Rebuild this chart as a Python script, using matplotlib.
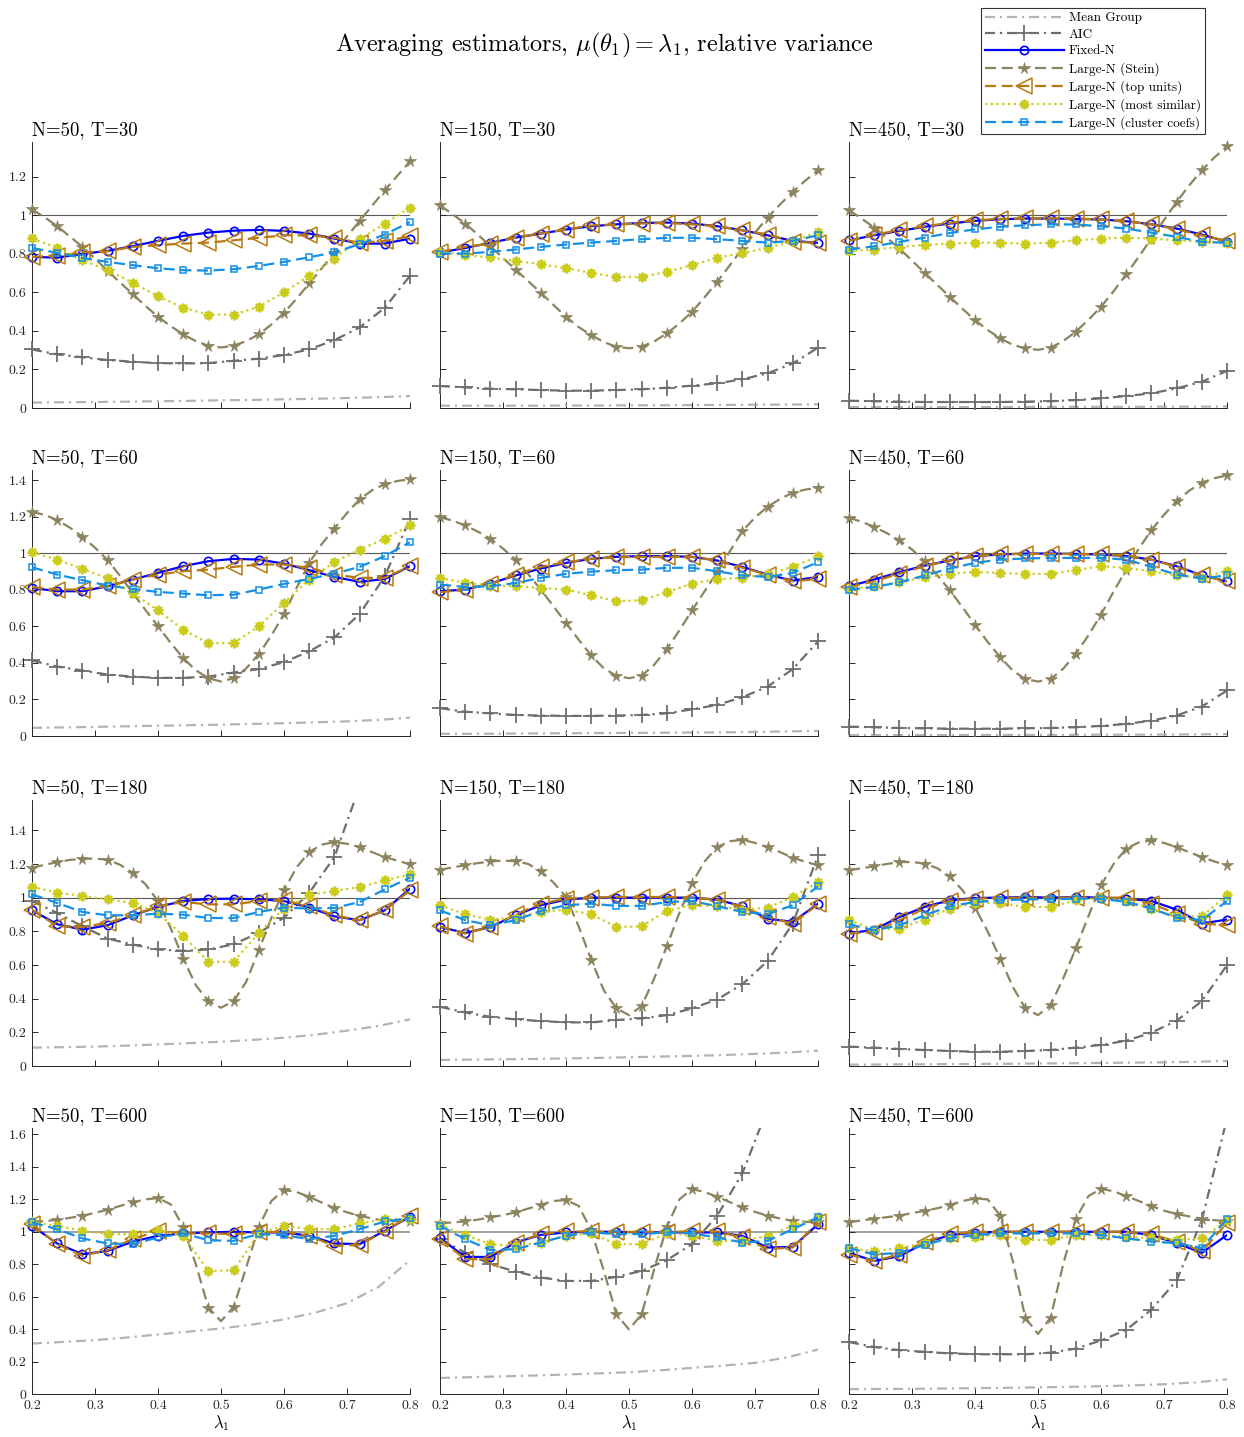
import numpy as np
import matplotlib.pyplot as plt
from matplotlib.lines import Line2D
from matplotlib.ticker import FuncFormatter

plt.rcParams['font.family'] = 'cmr10'
plt.rcParams['mathtext.fontset'] = 'cm'
plt.rcParams['axes.formatter.use_mathtext'] = True

# grid of lambda_1 values
lam = [0.20, 0.24, 0.28, 0.32, 0.36, 0.40, 0.44, 0.48, 0.52, 0.56, 0.60, 0.64, 0.68, 0.72, 0.76, 0.80]
lam_fine = [0.20, 0.22, 0.24, 0.26, 0.28, 0.30, 0.32, 0.34, 0.36, 0.38, 0.40, 0.42, 0.44, 0.46, 0.48, 0.50,
            0.52, 0.54, 0.56, 0.58, 0.60, 0.62, 0.64, 0.66, 0.68, 0.70, 0.72, 0.74, 0.76, 0.78, 0.80]
lam_mg = [0.20, 0.25, 0.30, 0.35, 0.40, 0.45, 0.50, 0.55, 0.60, 0.65, 0.70, 0.75, 0.80]

n_vals = [50, 150, 450]
t_vals = [30, 60, 180, 600]
row_ymax = [1.38, 1.455, 1.58, 1.64]
row_yticks = [[0, 0.2, 0.4, 0.6, 0.8, 1, 1.2],
              [0, 0.2, 0.4, 0.6, 0.8, 1, 1.2, 1.4],
              [0, 0.2, 0.4, 0.6, 0.8, 1, 1.2, 1.4],
              [0, 0.2, 0.4, 0.6, 0.8, 1, 1.2, 1.4, 1.6]]
x_ticks = [0.2, 0.3, 0.4, 0.5, 0.6, 0.7, 0.8]

# panels in order: (N=50,T=30), (150,30), (450,30), (50,60), ... (450,600)
mean_group = [
    [0.028, 0.030, 0.031, 0.033, 0.035, 0.037, 0.040, 0.042, 0.045, 0.048, 0.052, 0.056, 0.062],
    [0.012, 0.012, 0.012, 0.012, 0.013, 0.013, 0.014, 0.014, 0.015, 0.016, 0.017, 0.018, 0.019],
    [0.005, 0.005, 0.005, 0.005, 0.005, 0.005, 0.006, 0.006, 0.006, 0.006, 0.007, 0.007, 0.008],
    [0.045, 0.047, 0.050, 0.053, 0.056, 0.059, 0.062, 0.066, 0.070, 0.075, 0.080, 0.088, 0.100],
    [0.012, 0.012, 0.013, 0.014, 0.015, 0.016, 0.017, 0.018, 0.019, 0.020, 0.022, 0.025, 0.028],
    [0.005, 0.005, 0.005, 0.005, 0.006, 0.006, 0.006, 0.006, 0.007, 0.007, 0.008, 0.009, 0.010],
    [0.109, 0.112, 0.115, 0.121, 0.128, 0.136, 0.144, 0.155, 0.168, 0.186, 0.210, 0.238, 0.277],
    [0.036, 0.038, 0.040, 0.042, 0.045, 0.048, 0.052, 0.056, 0.060, 0.065, 0.072, 0.080, 0.091],
    [0.008, 0.009, 0.010, 0.011, 0.012, 0.013, 0.015, 0.016, 0.018, 0.020, 0.022, 0.025, 0.030],
    [0.311, 0.321, 0.332, 0.348, 0.367, 0.385, 0.404, 0.428, 0.460, 0.502, 0.560, 0.660, 0.825],
    [0.099, 0.104, 0.109, 0.114, 0.120, 0.127, 0.134, 0.146, 0.161, 0.175, 0.192, 0.225, 0.274],
    [0.030, 0.031, 0.032, 0.034, 0.036, 0.038, 0.041, 0.044, 0.048, 0.053, 0.060, 0.072, 0.090],
]

aic = [
    [0.304, 0.278, 0.263, 0.249, 0.240, 0.233, 0.231, 0.233, 0.245, 0.256, 0.275, 0.304, 0.352, 0.418, 0.520, 0.686],
    [0.114, 0.107, 0.100, 0.097, 0.093, 0.090, 0.090, 0.093, 0.097, 0.105, 0.116, 0.128, 0.149, 0.180, 0.231, 0.313],
    [0.038, 0.035, 0.033, 0.031, 0.031, 0.031, 0.031, 0.033, 0.035, 0.041, 0.050, 0.062, 0.076, 0.102, 0.136, 0.193],
    [0.413, 0.380, 0.358, 0.336, 0.325, 0.318, 0.318, 0.325, 0.347, 0.366, 0.404, 0.463, 0.539, 0.667, 0.874, 1.188],
    [0.152, 0.133, 0.124, 0.115, 0.112, 0.110, 0.110, 0.112, 0.115, 0.124, 0.146, 0.170, 0.212, 0.270, 0.366, 0.517],
    [0.051, 0.048, 0.044, 0.042, 0.040, 0.040, 0.040, 0.042, 0.044, 0.048, 0.055, 0.066, 0.084, 0.112, 0.161, 0.249],
    [0.980, 0.909, 0.830, 0.757, 0.721, 0.692, 0.684, 0.692, 0.723, 0.791, 0.881, 1.028, 1.241, 1.660, 2.200, 2.900],
    [0.352, 0.318, 0.292, 0.277, 0.267, 0.259, 0.259, 0.273, 0.283, 0.302, 0.342, 0.395, 0.486, 0.623, 0.846, 1.251],
    [0.115, 0.109, 0.101, 0.095, 0.089, 0.085, 0.085, 0.089, 0.095, 0.109, 0.125, 0.150, 0.198, 0.269, 0.385, 0.599],
    None,  # off the scale for N=50, T=600
    [0.955, 0.872, 0.800, 0.755, 0.718, 0.697, 0.697, 0.722, 0.759, 0.825, 0.924, 1.099, 1.361, 1.760, 2.300, 3.000],
    [0.320, 0.290, 0.270, 0.260, 0.250, 0.245, 0.245, 0.245, 0.255, 0.280, 0.330, 0.395, 0.520, 0.700, 1.070, 1.700],
]

fixed_n = [
    [0.784, 0.780, 0.800, 0.815, 0.840, 0.867, 0.893, 0.910, 0.920, 0.924, 0.919, 0.905, 0.879, 0.853, 0.853, 0.879],
    [0.807, 0.830, 0.857, 0.884, 0.905, 0.926, 0.943, 0.953, 0.960, 0.962, 0.957, 0.943, 0.922, 0.896, 0.867, 0.857],
    [0.870, 0.896, 0.919, 0.940, 0.957, 0.971, 0.979, 0.983, 0.983, 0.981, 0.978, 0.969, 0.953, 0.931, 0.900, 0.862],
    [0.810, 0.792, 0.792, 0.819, 0.856, 0.892, 0.929, 0.956, 0.969, 0.965, 0.943, 0.907, 0.870, 0.843, 0.859, 0.929],
    [0.792, 0.801, 0.834, 0.878, 0.916, 0.947, 0.969, 0.980, 0.984, 0.984, 0.980, 0.960, 0.925, 0.883, 0.850, 0.870],
    [0.819, 0.856, 0.896, 0.932, 0.960, 0.984, 0.993, 0.998, 0.998, 0.996, 0.993, 0.984, 0.965, 0.929, 0.879, 0.846],
    [0.925, 0.842, 0.810, 0.836, 0.895, 0.945, 0.980, 0.992, 0.994, 0.990, 0.980, 0.941, 0.889, 0.866, 0.925, 1.053],
    [0.826, 0.790, 0.826, 0.895, 0.955, 0.988, 1.000, 1.000, 1.000, 1.000, 1.000, 0.988, 0.949, 0.875, 0.856, 0.964],
    [0.787, 0.810, 0.885, 0.945, 0.984, 0.998, 1.000, 1.004, 1.000, 1.004, 1.000, 0.994, 0.980, 0.929, 0.846, 0.870],
    [1.037, 0.928, 0.862, 0.882, 0.940, 0.975, 0.990, 0.996, 1.000, 0.996, 0.996, 0.975, 0.928, 0.924, 1.006, 1.093],
    [0.961, 0.845, 0.845, 0.934, 0.981, 0.996, 1.000, 1.000, 0.996, 0.996, 0.996, 0.996, 0.975, 0.903, 0.907, 1.047],
    [0.870, 0.820, 0.850, 0.930, 0.980, 0.995, 1.000, 1.000, 1.000, 1.000, 1.000, 1.000, 0.980, 0.930, 0.870, 0.980],
]

stein = [
    [1.030, 0.990, 0.943, 0.890, 0.836, 0.775, 0.712, 0.650, 0.591, 0.530, 0.473, 0.425, 0.382, 0.347, 0.323, 0.314,
     0.323, 0.347, 0.382, 0.433, 0.494, 0.567, 0.646, 0.725, 0.805, 0.890, 0.970, 1.050, 1.130, 1.205, 1.280],
    [1.052, 1.005, 0.957, 0.900, 0.839, 0.778, 0.718, 0.658, 0.598, 0.535, 0.473, 0.420, 0.378, 0.342, 0.318, 0.310,
     0.318, 0.345, 0.387, 0.438, 0.499, 0.574, 0.655, 0.740, 0.827, 0.910, 0.988, 1.057, 1.121, 1.180, 1.233],
    [1.026, 0.983, 0.936, 0.883, 0.827, 0.765, 0.701, 0.639, 0.577, 0.515, 0.456, 0.405, 0.361, 0.328, 0.309, 0.302,
     0.313, 0.347, 0.396, 0.457, 0.525, 0.606, 0.693, 0.785, 0.879, 0.975, 1.069, 1.155, 1.233, 1.300, 1.357],
    [1.225, 1.210, 1.181, 1.140, 1.090, 1.030, 0.962, 0.875, 0.782, 0.690, 0.600, 0.510, 0.426, 0.360, 0.316, 0.298,
     0.316, 0.370, 0.448, 0.550, 0.667, 0.810, 0.947, 1.050, 1.135, 1.220, 1.294, 1.345, 1.377, 1.395, 1.404],
    [1.197, 1.178, 1.152, 1.118, 1.079, 1.025, 0.965, 0.885, 0.801, 0.710, 0.618, 0.527, 0.441, 0.370, 0.329, 0.316,
     0.329, 0.390, 0.475, 0.578, 0.687, 0.792, 0.896, 1.010, 1.121, 1.195, 1.254, 1.297, 1.331, 1.348, 1.358],
    [1.194, 1.172, 1.144, 1.110, 1.071, 1.020, 0.956, 0.880, 0.797, 0.705, 0.609, 0.515, 0.431, 0.358, 0.311, 0.298,
     0.311, 0.368, 0.450, 0.550, 0.664, 0.790, 0.910, 1.025, 1.126, 1.210, 1.285, 1.342, 1.386, 1.410, 1.426],
    [1.178, 1.195, 1.211, 1.224, 1.231, 1.232, 1.225, 1.195, 1.146, 1.080, 0.980, 0.820, 0.638, 0.480, 0.385, 0.346,
     0.385, 0.500, 0.688, 0.880, 1.043, 1.180, 1.271, 1.315, 1.330, 1.320, 1.300, 1.270, 1.241, 1.220, 1.198],
    [1.166, 1.180, 1.192, 1.205, 1.215, 1.220, 1.217, 1.200, 1.158, 1.090, 1.004, 0.830, 0.632, 0.450, 0.342, 0.302,
     0.356, 0.520, 0.711, 0.910, 1.087, 1.215, 1.300, 1.335, 1.344, 1.325, 1.300, 1.270, 1.237, 1.213, 1.192],
    [1.162, 1.175, 1.186, 1.200, 1.211, 1.212, 1.202, 1.175, 1.126, 1.045, 0.941, 0.800, 0.638, 0.470, 0.342, 0.302,
     0.362, 0.520, 0.698, 0.890, 1.073, 1.200, 1.291, 1.328, 1.340, 1.325, 1.300, 1.270, 1.241, 1.215, 1.192],
    [1.058, 1.066, 1.074, 1.086, 1.099, 1.117, 1.136, 1.160, 1.181, 1.200, 1.208, 1.170, 1.030, 0.800, 0.532, 0.449,
     0.536, 0.780, 1.030, 1.190, 1.258, 1.245, 1.216, 1.180, 1.146, 1.120, 1.099, 1.082, 1.068, 1.065, 1.064],
    [1.052, 1.058, 1.064, 1.075, 1.089, 1.103, 1.120, 1.143, 1.167, 1.190, 1.196, 1.160, 1.010, 0.760, 0.491, 0.398,
     0.491, 0.770, 1.030, 1.200, 1.264, 1.245, 1.216, 1.183, 1.151, 1.123, 1.099, 1.082, 1.068, 1.062, 1.058],
    [1.060, 1.070, 1.080, 1.090, 1.100, 1.115, 1.130, 1.145, 1.165, 1.190, 1.205, 1.200, 1.100, 0.820, 0.470, 0.370,
     0.470, 0.800, 1.080, 1.220, 1.265, 1.250, 1.220, 1.190, 1.160, 1.130, 1.110, 1.095, 1.080, 1.072, 1.065],
]

top_units = [
    [0.784, 0.790, 0.807, 0.813, 0.836, 0.845, 0.853, 0.858, 0.870, 0.883, 0.896, 0.896, 0.883, 0.857, 0.867, 0.890],
    [0.810, 0.836, 0.853, 0.884, 0.905, 0.926, 0.947, 0.952, 0.957, 0.960, 0.953, 0.943, 0.922, 0.900, 0.862, 0.857],
    [0.867, 0.900, 0.922, 0.943, 0.960, 0.974, 0.981, 0.984, 0.984, 0.983, 0.978, 0.969, 0.953, 0.927, 0.896, 0.867],
    [0.814, 0.801, 0.801, 0.819, 0.856, 0.883, 0.901, 0.910, 0.925, 0.938, 0.938, 0.920, 0.883, 0.865, 0.865, 0.929],
    [0.786, 0.801, 0.832, 0.883, 0.925, 0.951, 0.969, 0.978, 0.980, 0.980, 0.980, 0.960, 0.920, 0.883, 0.846, 0.859],
    [0.814, 0.846, 0.888, 0.929, 0.960, 0.984, 0.995, 0.996, 0.996, 0.996, 0.993, 0.987, 0.965, 0.925, 0.878, 0.846],
    [0.929, 0.830, 0.826, 0.850, 0.895, 0.949, 0.974, 0.960, 0.960, 0.980, 0.984, 0.949, 0.895, 0.866, 0.925, 1.043],
    [0.830, 0.787, 0.826, 0.901, 0.964, 0.994, 1.000, 1.004, 1.004, 1.004, 1.000, 0.988, 0.945, 0.885, 0.846, 0.960],
    [0.787, 0.797, 0.866, 0.935, 0.980, 0.994, 0.998, 1.000, 1.000, 1.000, 1.000, 1.000, 0.964, 0.905, 0.846, 0.836],
    [1.047, 0.924, 0.852, 0.887, 0.955, 1.006, 0.990, 0.990, 0.986, 0.996, 1.002, 0.975, 0.913, 0.920, 1.002, 1.099],
    [0.955, 0.831, 0.831, 0.934, 0.986, 1.002, 1.002, 1.000, 1.000, 1.000, 1.002, 1.002, 0.965, 0.893, 0.903, 1.058],
    [0.860, 0.820, 0.860, 0.940, 0.985, 1.000, 1.000, 1.000, 1.000, 1.000, 1.000, 1.000, 0.985, 0.940, 0.880, 1.055],
]

most_similar = [
    [0.880, 0.830, 0.767, 0.715, 0.650, 0.580, 0.520, 0.485, 0.485, 0.525, 0.600, 0.686, 0.775, 0.876, 0.957, 1.040],
    [0.810, 0.793, 0.781, 0.763, 0.746, 0.725, 0.701, 0.680, 0.680, 0.706, 0.741, 0.779, 0.805, 0.830, 0.865, 0.914],
    [0.815, 0.822, 0.836, 0.846, 0.853, 0.858, 0.857, 0.853, 0.857, 0.870, 0.879, 0.884, 0.879, 0.870, 0.862, 0.858],
    [1.005, 0.965, 0.914, 0.863, 0.782, 0.687, 0.581, 0.508, 0.508, 0.600, 0.728, 0.856, 0.951, 1.020, 1.079, 1.152],
    [0.865, 0.837, 0.823, 0.819, 0.810, 0.801, 0.770, 0.737, 0.742, 0.786, 0.834, 0.859, 0.865, 0.887, 0.925, 0.984],
    [0.804, 0.819, 0.841, 0.868, 0.887, 0.898, 0.892, 0.887, 0.887, 0.907, 0.929, 0.920, 0.901, 0.878, 0.865, 0.905],
    [1.063, 1.030, 1.010, 0.990, 0.968, 0.909, 0.773, 0.619, 0.619, 0.791, 0.935, 1.014, 1.040, 1.063, 1.103, 1.138],
    [0.955, 0.901, 0.870, 0.881, 0.915, 0.929, 0.901, 0.826, 0.830, 0.921, 0.955, 0.949, 0.929, 0.941, 1.004, 1.093],
    [0.866, 0.810, 0.816, 0.870, 0.935, 0.968, 0.968, 0.945, 0.945, 0.984, 1.000, 0.980, 0.935, 0.889, 0.889, 1.014],
    [1.058, 1.037, 1.006, 0.986, 0.986, 1.010, 0.975, 0.759, 0.763, 0.990, 1.037, 1.016, 1.016, 1.052, 1.078, 1.078],
    [1.043, 0.981, 0.924, 0.913, 0.934, 0.975, 0.990, 0.924, 0.924, 0.990, 0.975, 0.944, 0.944, 0.975, 1.037, 1.089],
    [0.900, 0.880, 0.900, 0.930, 0.960, 0.970, 0.980, 0.950, 0.950, 0.980, 0.980, 0.970, 0.960, 0.950, 0.960, 1.070],
]

cluster_coefs = [
    [0.830, 0.805, 0.779, 0.758, 0.741, 0.725, 0.715, 0.713, 0.720, 0.737, 0.758, 0.782, 0.807, 0.850, 0.900, 0.965],
    [0.801, 0.801, 0.810, 0.822, 0.836, 0.848, 0.858, 0.867, 0.876, 0.883, 0.883, 0.876, 0.867, 0.858, 0.867, 0.896],
    [0.822, 0.839, 0.862, 0.884, 0.908, 0.927, 0.940, 0.948, 0.953, 0.952, 0.943, 0.931, 0.910, 0.888, 0.862, 0.857],
    [0.923, 0.883, 0.852, 0.823, 0.804, 0.788, 0.779, 0.770, 0.773, 0.801, 0.832, 0.859, 0.888, 0.925, 0.984, 1.060],
    [0.828, 0.815, 0.819, 0.837, 0.865, 0.887, 0.899, 0.907, 0.910, 0.920, 0.920, 0.901, 0.878, 0.870, 0.892, 0.951],
    [0.801, 0.814, 0.841, 0.878, 0.916, 0.947, 0.965, 0.971, 0.974, 0.974, 0.974, 0.965, 0.925, 0.883, 0.861, 0.879],
    [1.020, 0.968, 0.915, 0.895, 0.895, 0.905, 0.899, 0.879, 0.879, 0.915, 0.941, 0.935, 0.939, 0.974, 1.049, 1.119],
    [0.925, 0.866, 0.836, 0.866, 0.921, 0.955, 0.964, 0.951, 0.951, 0.974, 0.980, 0.949, 0.915, 0.901, 0.955, 1.067],
    [0.842, 0.806, 0.836, 0.895, 0.949, 0.974, 0.984, 0.990, 0.990, 0.994, 0.994, 0.974, 0.935, 0.881, 0.866, 0.980],
    [1.058, 1.016, 0.959, 0.928, 0.924, 0.965, 0.990, 0.948, 0.944, 0.986, 0.979, 0.955, 0.975, 1.016, 1.064, 1.085],
    [1.037, 0.955, 0.887, 0.893, 0.934, 0.975, 0.996, 0.986, 0.986, 0.996, 0.990, 0.965, 0.934, 0.944, 1.016, 1.089],
    [0.900, 0.860, 0.870, 0.920, 0.960, 0.980, 0.990, 0.990, 0.990, 0.990, 0.980, 0.960, 0.940, 0.930, 0.900, 1.080],
]

# series styles (label, x grid, data, line style, marker settings)
series = [
    dict(label='Mean Group', x=lam_mg, y=mean_group, color='#b3b3b3', ls=(0, (4.5, 2.2, 1, 2.2)), lw=1.6,
         marker=None, step=1, ms=0, mfc=None, mew=0),
    dict(label='AIC', x=lam, y=aic, color='#6e6e6a', ls=(0, (4.5, 2.2, 1, 2.2)), lw=1.6,
         marker='+', step=1, ms=11, mfc=None, mew=1.3),
    dict(label='Fixed-N', x=lam, y=fixed_n, color='#0000ff', ls='-', lw=1.6,
         marker='o', step=1, ms=6, mfc='none', mew=1.2),
    dict(label='Large-N (Stein)', x=lam_fine, y=stein, color='#8c835f', ls=(0, (5, 2.5)), lw=1.6,
         marker='*', step=2, ms=8.5, mfc='#8c835f', mew=0.5),
    dict(label='Large-N (top units)', x=lam, y=top_units, color='#b8790f', ls=(0, (5, 2.5)), lw=1.6,
         marker='<', step=1, ms=12, mfc='none', mew=1.1),
    dict(label='Large-N (most similar)', x=lam, y=most_similar, color='#cccc1c', ls=(0, (1, 1.6)), lw=1.6,
         marker=(8, 2, 0), step=1, ms=7, mfc='#cccc1c', mew=1.4),
    dict(label='Large-N (cluster coefs)', x=lam, y=cluster_coefs, color='#1590e6', ls=(0, (5, 2.5)), lw=1.6,
         marker='s', step=1, ms=5, mfc='none', mew=1.1),
]

W, H = 1244, 1437
fig = plt.figure(figsize=(W / 100, H / 100), dpi=100)

col_left = [32, 440, 849]
row_top = [142, 470, 800, 1128]
ax_w, ax_h = 378, 266
fmt = FuncFormatter(lambda v, p: f'{v:g}')

for r, t in enumerate(t_vals):
    ymax = row_ymax[r]
    for c, n in enumerate(n_vals):
        i = r * 3 + c
        ax = fig.add_axes([col_left[c] / W, 1 - (row_top[r] + ax_h) / H, ax_w / W, ax_h / H])
        ax.axhline(1, color='0.35' if r < 3 else '0.6', lw=0.8 if r < 3 else 1.3, zorder=1)
        for k, s in enumerate(series):
            yv = s['y'][i]
            if yv is None:
                continue
            xv = np.array(s['x'])
            yv = np.array(yv)
            ax.plot(xv, yv, color=s['color'], ls=s['ls'], lw=s['lw'], zorder=2 + k)
            if s['marker'] is not None:
                mx, my = xv[::s['step']], yv[::s['step']]
                keep = my <= ymax
                ax.plot(mx[keep], my[keep], ls='none', marker=s['marker'], ms=s['ms'],
                        mfc=s['mfc'], mec=s['color'], mew=s['mew'], clip_on=False, zorder=2 + k)
        ax.set_xlim(0.2, 0.8)
        ax.set_ylim(0, ymax)
        ax.set_xticks(x_ticks)
        ax.set_yticks(row_yticks[r])
        ax.xaxis.set_major_formatter(fmt)
        ax.yaxis.set_major_formatter(fmt)
        for side in ['top', 'right']:
            ax.spines[side].set_visible(False)
        for side in ['left', 'bottom']:
            ax.spines[side].set_color('0.15')
            ax.spines[side].set_linewidth(0.7)
        ax.tick_params(direction='in', length=4, width=0.7, color='0.15', labelcolor='0.15',
                       labelsize=10, labelbottom=(r == 3), labelleft=(c == 0), pad=4)
        ax.set_title(f'N={n}, T={t}', loc='left', fontsize=13.5, pad=5)
        if r == 3:
            ax.set_xlabel(r'$\lambda_1$', fontsize=12, labelpad=1)

fig.text(0.486, 1 - 45 / H, r'Averaging estimators, $\mu(\theta_1) = \lambda_1$, relative variance',
         ha='center', va='center', fontsize=17.5)

handles = []
for s in series:
    handles.append(Line2D([], [], color=s['color'], ls=s['ls'], lw=s['lw'], marker=s['marker'],
                          ms=s['ms'], mfc=s['mfc'], mec=s['color'], mew=s['mew']))
leg = fig.legend(handles, [s['label'] for s in series], loc='upper right',
                 bbox_to_anchor=(1205 / W, 1 - 8 / H), borderaxespad=0, fontsize=9.5, handlelength=6.0,
                 handletextpad=0.4, labelspacing=0.33, borderpad=0.3, fancybox=False,
                 edgecolor='0.2', framealpha=1)
leg.get_frame().set_linewidth(0.8)

fig.savefig('out.png', dpi=100)
